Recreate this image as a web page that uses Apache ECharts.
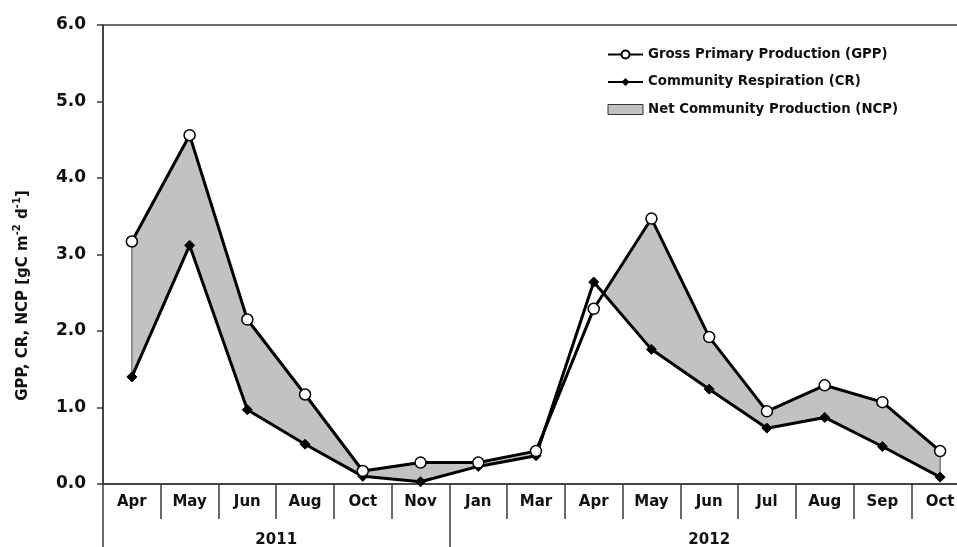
<!DOCTYPE html>
<html lang="en">
<head>
<meta charset="UTF-8">
<title>GPP, CR and NCP</title>
<script src="https://cdn.jsdelivr.net/npm/echarts@6/dist/echarts.min.js"></script>
<style>
  html, body { margin: 0; padding: 0; background: #fff; }
  #chart { width: 957px; height: 547px; }
</style>
</head>
<body>
<div id="chart"></div>
<script>
  // monthly values
  var months = ['Apr', 'May', 'Jun', 'Aug', 'Oct', 'Nov', 'Jan', 'Mar', 'Apr', 'May', 'Jun', 'Jul', 'Aug', 'Sep', 'Oct'];
  var gpp = [3.17, 4.56, 2.15, 1.17, 0.17, 0.28, 0.28, 0.43, 2.29, 3.47, 1.92, 0.95, 1.29, 1.07, 0.43];
  var cr  = [1.40, 3.12, 0.97, 0.52, 0.10, 0.03, 0.23, 0.37, 2.64, 1.76, 1.24, 0.73, 0.87, 0.49, 0.09];
  var years = ['2011', '2012'];
  var yearMonths = [6, 9];   // how many months fall under each year
  var yTicks = [0, 1, 2, 3, 4, 5, 6];

  var font = 'DejaVu Sans';
  var ink = '#111';
  var axisCol = '#3a3a3a';
  var shade = '#c2c2c2';

  // year positions on a 0..15 value axis laid over the categories
  var yearEdges = [0];
  var yearCentres = [];
  yearMonths.forEach(function (n) {
    var start = yearEdges[yearEdges.length - 1];
    yearCentres.push(start + n / 2);
    yearEdges.push(start + n);
  });

  // shaded NCP band: only where GPP sits above CR, split at crossings
  function renderBand(params, api) {
    var i = params.dataIndex;
    if (i >= gpp.length - 1) return;
    var g0 = api.coord([i, gpp[i]]), g1 = api.coord([i + 1, gpp[i + 1]]);
    var c0 = api.coord([i, cr[i]]), c1 = api.coord([i + 1, cr[i + 1]]);
    var d0 = gpp[i] - cr[i], d1 = gpp[i + 1] - cr[i + 1];
    var pts = null;
    if (d0 >= 0 && d1 >= 0) {
      pts = [g0, g1, c1, c0];
    } else if (d0 > 0 || d1 > 0) {
      var t = d0 / (d0 - d1);
      var x = [g0[0] + t * (g1[0] - g0[0]), g0[1] + t * (g1[1] - g0[1])];
      pts = d0 > 0 ? [g0, x, c0] : [x, g1, c1];
    }
    var children = [];
    if (pts) {
      children.push({ type: 'polygon', shape: { points: pts }, style: { fill: shade, stroke: shade, lineWidth: 1 } });
    }
    if (i === 0) {
      children.push({ type: 'line', z2: 5, shape: { x1: g0[0], y1: g0[1], x2: c0[0], y2: c0[1] }, style: { stroke: '#555', lineWidth: 1 } });
    }
    if (i === gpp.length - 2) {
      children.push({ type: 'line', z2: 5, shape: { x1: g1[0], y1: g1[1], x2: c1[0], y2: c1[1] }, style: { stroke: '#555', lineWidth: 1 } });
    }
    return { type: 'group', children: children };
  }

  var chart = echarts.init(document.getElementById('chart'));
  chart.setOption({
    animation: false,
    backgroundColor: '#fff',
    textStyle: { fontFamily: font, color: ink },
    grid: {
      left: 103, top: 25, width: 866, bottom: 63,
      outerBoundsMode: 'none',
      containLabel: false,
      show: true, borderColor: axisCol, borderWidth: 1.5, backgroundColor: 'transparent'
    },
    legend: {
      orient: 'vertical',
      left: 607, top: 48,
      padding: 0,
      itemWidth: 35, itemHeight: 10, itemGap: 14.5,
      textStyle: { fontFamily: font, fontWeight: 'bold', fontSize: 13.3, color: ink },
      data: [
        { name: 'Gross Primary Production (GPP)' },
        { name: 'Community Respiration (CR)' },
        { name: 'Net Community Production (NCP)', icon: 'rect',
          itemStyle: { color: shade, borderColor: '#333', borderWidth: 1 } }
      ]
    },
    xAxis: [
      {
        type: 'category',
        data: months,
        boundaryGap: true,
        axisLine: { lineStyle: { color: axisCol, width: 1.5 } },
        axisTick: { show: true, interval: 0, length: 35, lineStyle: { color: axisCol, width: 1.5 } },
        axisLabel: { interval: 0, margin: 11, fontFamily: font, fontWeight: 'bold', fontSize: 15, color: ink },
        splitLine: { show: false }
      },
      {
        type: 'value',
        position: 'bottom',
        min: 0, max: yearEdges[yearEdges.length - 1],
        axisLine: { show: false },
        axisTick: { show: true, customValues: yearEdges, length: 64, lineStyle: { color: axisCol, width: 1.5 } },
        axisLabel: {
          customValues: yearCentres, margin: 49,
          fontFamily: font, fontWeight: 'bold', fontSize: 15, color: ink,
          formatter: function (v) { return years[yearCentres.indexOf(v)]; }
        },
        splitLine: { show: false }
      }
    ],
    yAxis: {
      type: 'value',
      min: 0, max: 6, interval: 1,
      axisLine: { show: true, lineStyle: { color: axisCol, width: 1.5 } },
      axisTick: { show: true, length: 6, customValues: yTicks, lineStyle: { color: axisCol, width: 1.5 } },
      axisLabel: {
        margin: 17, fontFamily: font, fontWeight: 'bold', fontSize: 17, color: ink,
        formatter: function (v) { return v.toFixed(1); }
      },
      splitLine: { show: false },
      name: '{a|GPP, CR, NCP [gC m}{s|-2}{a| d}{s|-1}{a|]}',
      nameLocation: 'middle',
      nameRotate: 90,
      nameGap: 72,
      nameTextStyle: {
        padding: [0, 82, 0, 0],
        rich: {
          a: { fontFamily: font, fontWeight: 'bold', fontSize: 15, color: ink, lineHeight: 19, verticalAlign: 'bottom' },
          s: { fontFamily: font, fontWeight: 'bold', fontSize: 10, color: ink, lineHeight: 11, verticalAlign: 'top' }
        }
      }
    },
    series: [
      {
        name: 'Net Community Production (NCP)',
        type: 'custom',
        z: 1,
        xAxisIndex: 0,
        renderItem: renderBand,
        data: months.map(function (m, i) { return [i, gpp[i]]; }),
        itemStyle: { color: shade }
      },
      {
        name: 'Community Respiration (CR)',
        type: 'line',
        z: 3,
        xAxisIndex: 0,
        data: cr,
        symbol: 'diamond',
        symbolSize: 10,
        lineStyle: { color: '#000', width: 3 },
        itemStyle: { color: '#000', borderColor: '#000' }
      },
      {
        name: 'Gross Primary Production (GPP)',
        type: 'line',
        z: 4,
        xAxisIndex: 0,
        data: gpp,
        symbol: 'circle',
        symbolSize: 11,
        lineStyle: { color: '#000', width: 3 },
        itemStyle: { color: '#fff', borderColor: '#000', borderWidth: 1.5 }
      }
    ]
  });
</script>
</body>
</html>
